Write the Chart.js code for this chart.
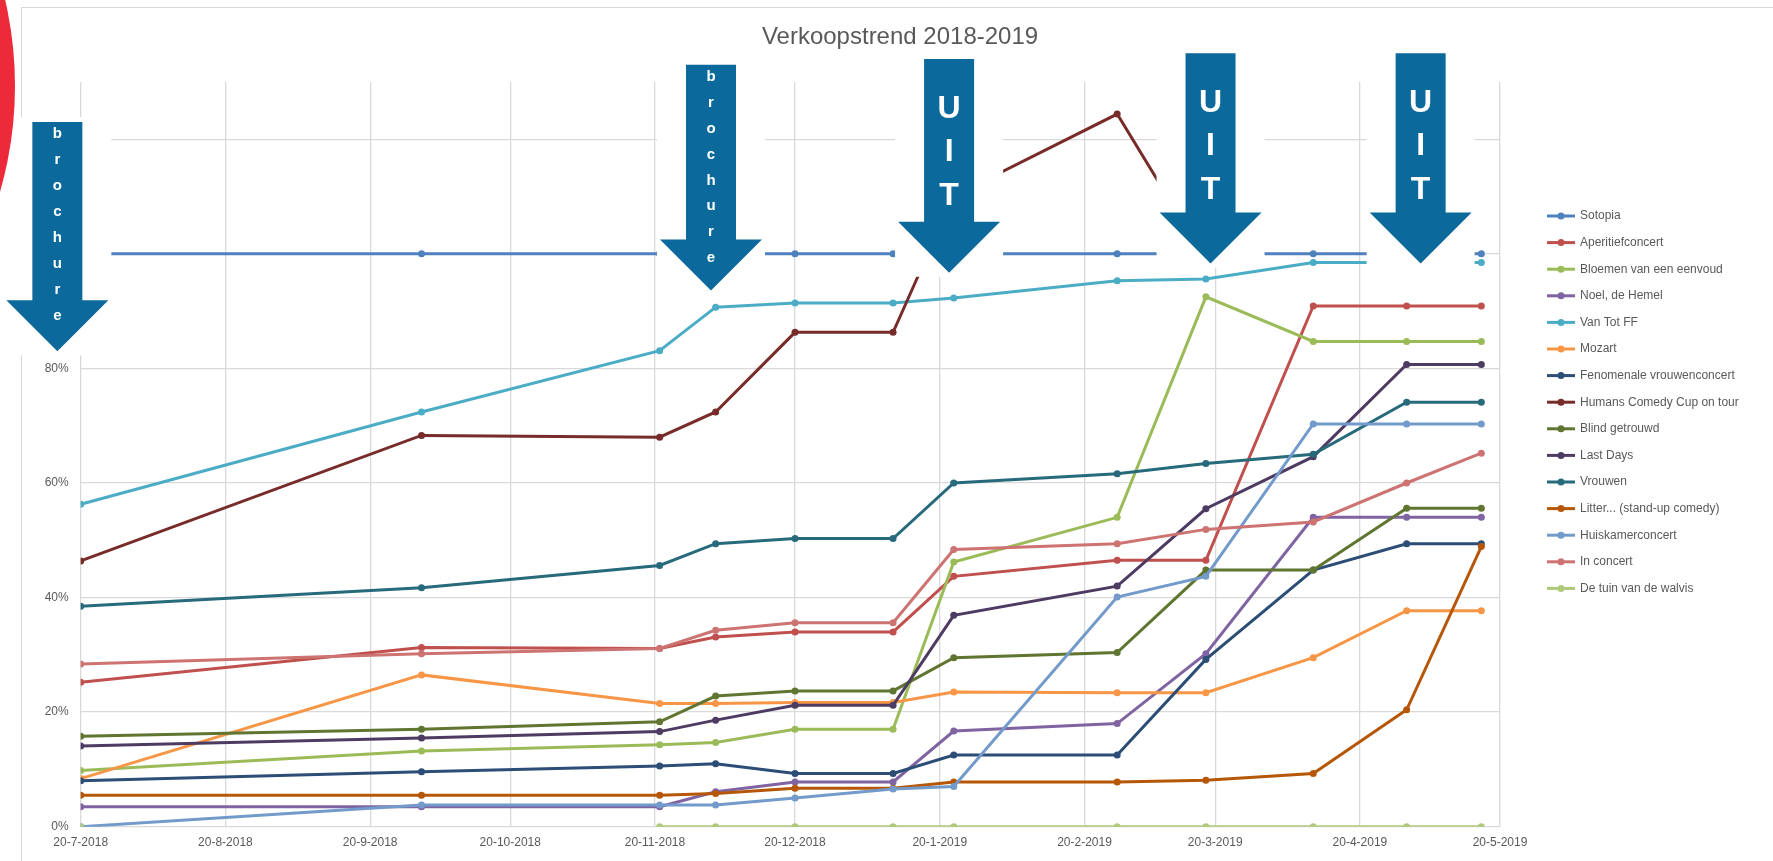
<!DOCTYPE html>
<html>
<head>
<meta charset="utf-8">
<title>Verkoopstrend 2018-2019</title>
<script src="https://cdn.jsdelivr.net/npm/chart.js@4.4.1/dist/chart.umd.min.js"></script>
<style>
  html, body { margin: 0; padding: 0; background: #fff; overflow: hidden; }
  #wrap { position: relative; width: 1773px; height: 861px; overflow: hidden; }
  #frame { position: absolute; left: 21px; top: 7px; width: 1800px; height: 900px;
           border-top: 1px solid #d9d9d9; border-left: 1px solid #d9d9d9; }
  #dot { position: absolute; left: -749px; top: -296px; width: 764px; height: 764px;
         border-radius: 50%; background: #ec2a3a; z-index: 2; }
  #myChart { position: absolute; left: 0; top: 0; z-index: 1; }
</style>
</head>
<body>
<div id="wrap">
  <div id="frame"></div>
  <div id="dot"></div>
  <canvas id="myChart" width="1773" height="861"></canvas>
</div>
<script>
// measurement dates (d-m-yyyy)
const dates = ['20-7-2018', '1-10-2018', '21-11-2018', '3-12-2018', '20-12-2018', '10-1-2019',
               '23-1-2019', '27-2-2019', '18-3-2019', '10-4-2019', '30-4-2019', '16-5-2019'];

const tickLabels = ['20-7-2018', '20-8-2018', '20-9-2018', '20-10-2018', '20-11-2018', '20-12-2018',
                    '20-1-2019', '20-2-2019', '20-3-2019', '20-4-2019', '20-5-2019'];

const seriesNames = ['Sotopia', 'Aperitiefconcert', 'Bloemen van een eenvoud', 'Noel, de Hemel', 'Van Tot FF',
                     'Mozart', 'Fenomenale vrouwenconcert', 'Humans Comedy Cup on tour', 'Blind getrouwd',
                     'Last Days', 'Vrouwen', 'Litter... (stand-up comedy)', 'Huiskamerconcert', 'In concert',
                     'De tuin van de walvis'];

const seriesColors = ['#4f81bd', '#c0504d', '#9bbb59', '#8064a2', '#4bacc6', '#f79646', '#2c4d75', '#772c2a',
                      '#5f7530', '#4d3b62', '#276a7c', '#b65708', '#729aca', '#cd7371', '#afc97a'];

// percentages sold per date
const sotopia     = [100, 100, 100, 100, 100, 100, 100, 100, 100, 100, 100, 100];
const aperitief   = [25.2, 31.3, 31.1, 33.1, 34.0, 34.0, 43.7, 46.5, 46.5, 90.9, 90.9, 90.9];
const bloemen     = [9.8, 13.2, 14.3, 14.7, 17.0, 17.0, 46.2, 54.0, 92.5, 84.7, 84.7, 84.7];
const noel        = [3.5, 3.5, 3.5, 6.1, 7.8, 7.8, 16.7, 18.0, 30.2, 54.0, 54.0, 54.0];
const vanTotFF    = [56.3, 72.4, 83.1, 90.7, 91.4, 91.4, 92.3, 95.3, 95.6, 98.5, 98.5, 98.5];
const mozart      = [8.4, 26.5, 21.5, 21.5, 21.7, 21.7, 23.5, 23.4, 23.4, 29.5, 37.7, 37.7];
const fenomenale  = [8.0, 9.6, 10.6, 11.0, 9.3, 9.3, 12.5, 12.5, 29.2, 44.8, 49.4, 49.4];
const humans      = [46.4, 68.3, 68.0, 72.4, 86.3, 86.3, 110.1, 124.4, 99.0, null, null, null];
const blind       = [15.8, 17.0, 18.3, 22.8, 23.7, 23.7, 29.5, 30.4, 44.8, 44.8, 55.6, 55.6];
const lastDays    = [14.1, 15.5, 16.6, 18.6, 21.2, 21.2, 36.9, 42.0, 55.5, 64.6, 80.7, 80.7];
const vrouwen     = [38.5, 41.7, 45.6, 49.4, 50.3, 50.3, 60.0, 61.6, 63.4, 65.0, 74.1, 74.1];
const litter      = [5.5, 5.5, 5.5, 5.8, 6.7, 6.7, 7.8, 7.8, 8.1, 9.3, 20.4, 48.9];
const huiskamer   = [0, 3.8, 3.8, 3.8, 5.0, 6.6, 7.0, 40.1, 43.7, 70.3, 70.3, 70.3];
const inConcert   = [28.4, 30.2, 31.1, 34.3, 35.6, 35.6, 48.4, 49.4, 51.9, 53.2, 60.0, 65.2];
const tuin        = [0, null, 0, 0, 0, 0, 0, 0, 0, 0, 0, 0];

const seriesValues = [sotopia, aperitief, bloemen, noel, vanTotFF, mozart, fenomenale, humans,
                      blind, lastDays, vrouwen, litter, huiskamer, inConcert, tuin];

// pasted arrows on the chart (date of the arrow, top and tip in %)
const arrows = [
    { at: '15-7-2018', top: 123, tip: 83, text: 'brochure' },
    { at: '2-12-2018', top: 133, tip: 93.6, text: 'brochure' },
    { at: '22-1-2019', top: 134, tip: 96.7, text: 'UIT' },
    { at: '19-3-2019', top: 135, tip: 98.3, text: 'UIT' },
    { at: '3-5-2019', top: 135, tip: 98.3, text: 'UIT' }
];

const FONT = "'Liberation Sans', Arial, sans-serif";
const TEXT = '#595959';

function toDay(s) {
    const [d, m, y] = s.split('-').map(Number);
    return (Date.UTC(y, m - 1, d) - Date.UTC(2018, 6, 20)) / 86400000;
}

const overlay = {
    id: 'overlay',
    afterDraw(chart) {
        const ctx = chart.ctx;
        const xs = chart.scales.x;
        const ys = chart.scales.y;
        ctx.save();

        // title
        ctx.fillStyle = TEXT;
        ctx.font = '24px ' + FONT;
        ctx.textAlign = 'center';
        ctx.textBaseline = 'middle';
        ctx.fillText('Verkoopstrend 2018-2019', 900, 37);

        // arrows
        arrows.forEach(a => {
            const cx = xs.getPixelForValue(toDay(a.at));
            const top = ys.getPixelForValue(a.top);
            const tip = ys.getPixelForValue(a.tip);
            const shoulder = tip - 51;
            ctx.fillStyle = '#fff';
            ctx.fillRect(cx - 54, top - 5, 108, tip - top + 9);
            ctx.fillStyle = '#0b6a9b';
            ctx.beginPath();
            ctx.moveTo(cx - 25, top);
            ctx.lineTo(cx + 25, top);
            ctx.lineTo(cx + 25, shoulder);
            ctx.lineTo(cx + 51, shoulder);
            ctx.lineTo(cx, tip);
            ctx.lineTo(cx - 51, shoulder);
            ctx.lineTo(cx - 25, shoulder);
            ctx.closePath();
            ctx.fill();
            ctx.fillStyle = '#fff';
            ctx.textAlign = 'center';
            ctx.textBaseline = 'middle';
            if (a.text === 'UIT') {
                ctx.font = 'bold 32px ' + FONT;
                [50, 93, 137].forEach((off, i) => ctx.fillText(a.text[i], cx, top + off));
            } else {
                ctx.font = 'bold 15px ' + FONT;
                a.text.split('').forEach((ch, i) => ctx.fillText(ch, cx, top + 12 + i * 25.9));
            }
        });

        // legend
        ctx.font = '12px ' + FONT;
        ctx.textAlign = 'left';
        ctx.textBaseline = 'middle';
        chart.data.datasets.forEach((ds, i) => {
            const y = 216 + i * 26.6;
            ctx.strokeStyle = ds.borderColor;
            ctx.lineWidth = 3;
            ctx.beginPath();
            ctx.moveTo(1547, y);
            ctx.lineTo(1575, y);
            ctx.stroke();
            ctx.fillStyle = ds.borderColor;
            ctx.beginPath();
            ctx.arc(1561, y, 3.5, 0, Math.PI * 2);
            ctx.fill();
            ctx.fillStyle = TEXT;
            ctx.fillText(ds.label, 1580, y);
        });
        ctx.restore();
    }
};

const datasets = seriesNames.map((name, i) => ({
    label: name,
    data: dates.map((d, j) => ({ x: toDay(d), y: seriesValues[i][j] })),
    borderColor: seriesColors[i],
    backgroundColor: seriesColors[i],
    borderWidth: 3,
    pointRadius: 3.5,
    pointHoverRadius: 3.5,
    pointBorderWidth: 0,
    tension: 0,
    spanGaps: false,
    order: -i
}));

new Chart(document.getElementById('myChart').getContext('2d'), {
    type: 'line',
    data: { datasets: datasets },
    options: {
        responsive: false,
        animation: false,
        devicePixelRatio: 1,
        layout: { padding: { top: 82, right: 273, bottom: 0, left: 0 } },
        scales: {
            x: {
                type: 'linear',
                min: 0,
                max: toDay(tickLabels[tickLabels.length - 1]),
                afterBuildTicks: scale => { scale.ticks = tickLabels.map(t => ({ value: toDay(t) })); },
                afterFit: scale => { scale.height = 34.3; },
                ticks: {
                    autoSkip: false,
                    maxRotation: 0,
                    padding: 9,
                    color: TEXT,
                    font: { family: FONT, size: 12 },
                    callback: (v, i) => tickLabels[i]
                },
                grid: { color: '#d9d9d9', lineWidth: 1.3, drawTicks: false },
                border: { display: false }
            },
            y: {
                min: 0,
                max: 130,
                afterBuildTicks: scale => { scale.ticks = scale.ticks.filter(t => t.value % 20 === 0); },
                afterFit: scale => { scale.width = 80.7; },
                ticks: {
                    stepSize: 20,
                    padding: 12,
                    color: TEXT,
                    font: { family: FONT, size: 12 },
                    callback: v => v + '%'
                },
                grid: { color: '#d9d9d9', lineWidth: 1.3, drawTicks: false },
                border: { display: false }
            }
        },
        plugins: {
            legend: { display: false },
            title: { display: false },
            tooltip: { enabled: false }
        }
    },
    plugins: [overlay]
});
</script>
</body>
</html>
